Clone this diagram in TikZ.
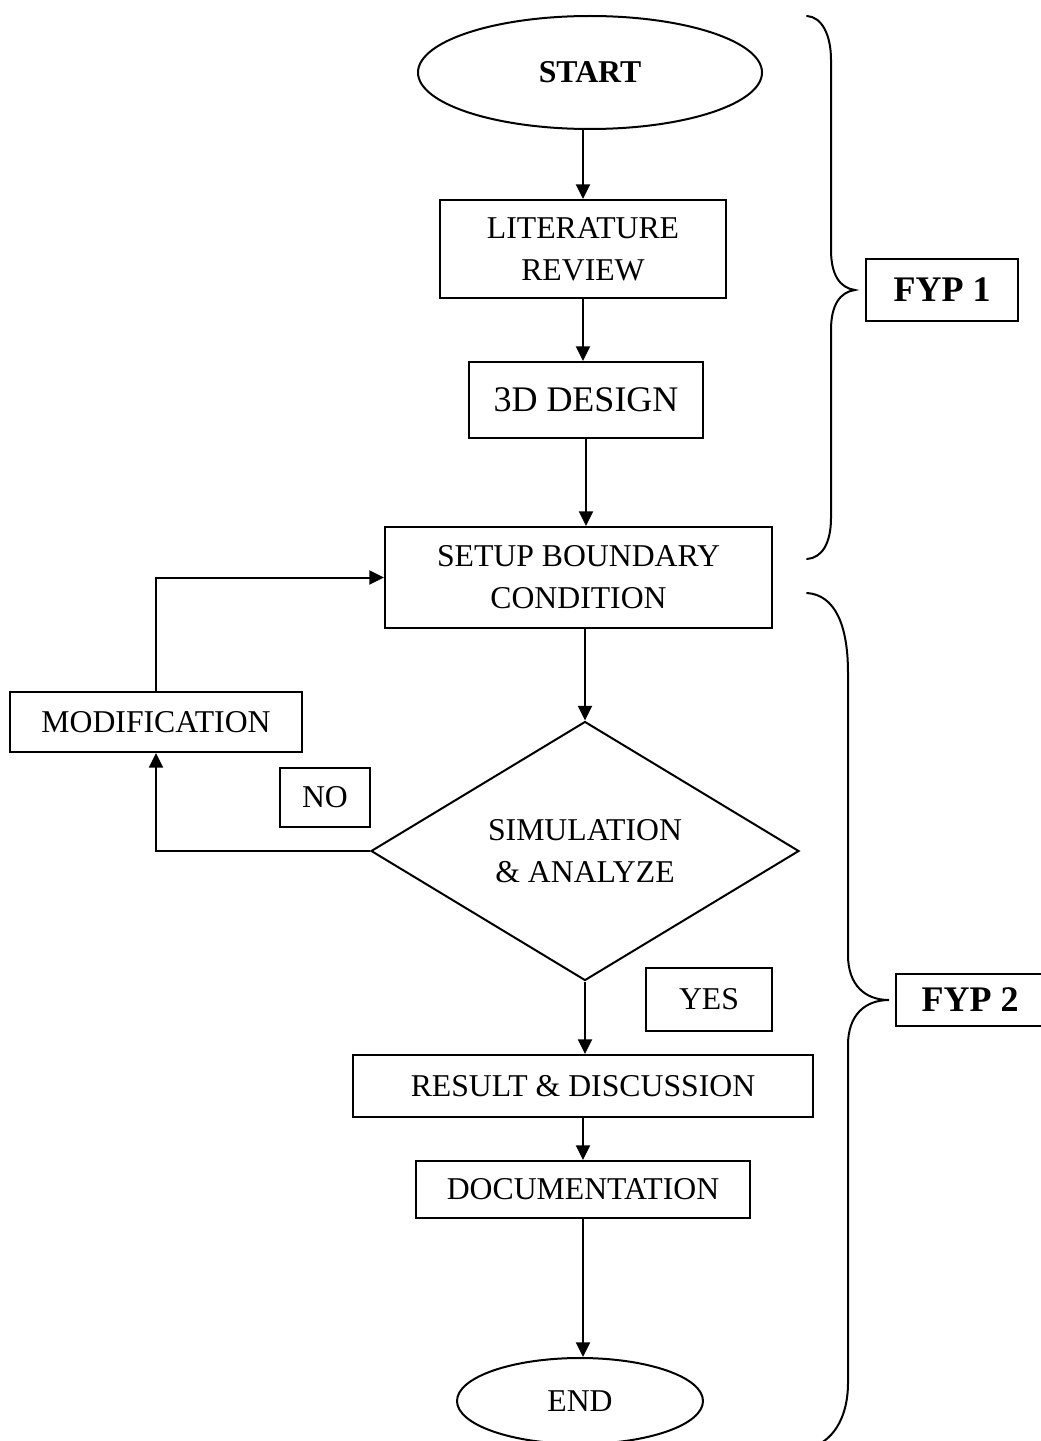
\documentclass[tikz,border=0pt]{standalone}
\usepackage{fontspec}
\setmainfont{Liberation Serif}
\usetikzlibrary{shapes.geometric,arrows.meta}
\begin{document}
\begin{tikzpicture}[x=0.75pt,y=-0.75pt,
  every node/.style={font=\fontsize{23.8}{31.5}\selectfont, inner sep=0pt, align=center},
  box/.style={draw, line width=1.5pt, rectangle},
  term/.style={draw, line width=1.5pt, ellipse},
  decision/.style={draw, line width=1.5pt, diamond, aspect=1.653},
  phase/.style={draw, line width=1.5pt, rectangle, font=\fontsize{27}{32}\selectfont\bfseries},
  arr/.style={line width=1.5pt, -{Triangle[length=11pt,width=10.5pt]}},
  brace/.style={line width=1.5pt, line cap=round}]
\useasboundingbox (0,0) rectangle (1040,1441);

\node[term, minimum width=258pt, minimum height=84.75pt, font=\fontsize{23.8}{31.5}\selectfont\bfseries] (start) at (590,72.5) {START};
\node[box, minimum width=214.5pt, minimum height=73.5pt] (lit) at (583,249) {LITERATURE\\REVIEW};
\node[box, minimum width=175.5pt, minimum height=57pt, font=\fontsize{27}{32}\selectfont] (d3) at (586,400) {3D DESIGN};
\node[box, minimum width=290.25pt, minimum height=75.75pt] (setup) at (578.5,577.5) {SETUP BOUNDARY\\CONDITION};
\node[decision, minimum width=321pt, minimum height=194.25pt] (sim) at (585,851) {SIMULATION\\\& ANALYZE};
\node[box, minimum width=219pt, minimum height=45pt] (mod) at (156,722) {MODIFICATION};
\node[box, minimum width=67.5pt, minimum height=44.25pt] (no) at (325,797.5) {NO};
\node[box, minimum width=94.5pt, minimum height=47.25pt] (yes) at (709,999.5) {YES};
\node[box, minimum width=345pt, minimum height=46.5pt] (res) at (583,1086) {RESULT \& DISCUSSION};
\node[box, minimum width=250.5pt, minimum height=42.75pt] (doc) at (583,1189.5) {DOCUMENTATION};
\node[term, minimum width=184.5pt, minimum height=64.5pt] (end) at (580,1401) {END};

\node[phase, minimum width=114pt, minimum height=47pt] (fyp1) at (942,290) {FYP 1};
\node[phase, minimum width=111pt, minimum height=39pt] (fyp2) at (970,1000) {FYP 2};

\draw[arr] (start.south -| lit.north) -- (lit.north);
\draw[arr] (lit.south) -- (lit.south |- d3.north);
\draw[arr] (d3.south) -- (d3.south |- setup.north);
\draw[arr] (setup.south -| sim.north) -- (sim.north);
\draw[arr] (sim.south) -- (sim.south |- res.north);
\draw[arr] (res.south) -- (res.south |- doc.north);
\draw[arr] (doc.south) -- (doc.south |- end.north);
\draw[arr] (sim.west) -| (mod.south);
\draw[arr] (mod.north) |- (setup.west);

\draw[brace] (807,16) .. controls (822,17) and (831,35) .. (831,60) -- (831,250)
  .. controls (831,275) and (840,288) .. (855,290)
  .. controls (840,292) and (831,305) .. (831,330) -- (831,518)
  .. controls (831,543) and (822,558) .. (807,559);
\draw[brace] (807,593) .. controls (835,595) and (848,625) .. (848,673) -- (848,955)
  .. controls (848,985) and (865,1000) .. (889,1000)
  .. controls (865,1000) and (848,1015) .. (848,1045) -- (848,1383)
  .. controls (848,1415) and (835,1438) .. (815,1446);
\end{tikzpicture}
\end{document}
